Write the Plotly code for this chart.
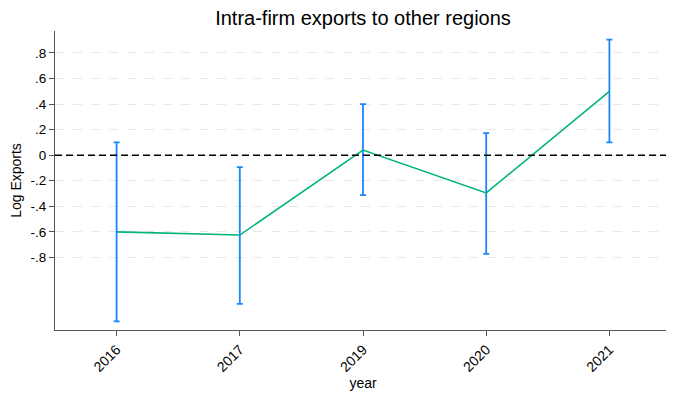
import plotly.graph_objects as go

years = ["2016", "2017", "2019", "2020", "2021"]
coef = [-0.60, -0.625, 0.04, -0.295, 0.50]
ci_upper = [0.10, -0.094, 0.40, 0.172, 0.905]
ci_lower = [-1.30, -1.163, -0.313, -0.772, 0.10]
ytick_vals = [0.8, 0.6, 0.4, 0.2, 0, -0.2, -0.4, -0.6, -0.8]
ytick_text = [".8", ".6", ".4", ".2", "0", "-.2", "-.4", "-.6", "-.8"]

err_plus = [u - c for u, c in zip(ci_upper, coef)]
err_minus = [c - l for c, l in zip(coef, ci_lower)]

font = "Liberation Sans, Arial, sans-serif"

fig = go.Figure()
# error bars (blue)
fig.add_trace(go.Scatter(
    x=years, y=coef, mode="markers",
    marker=dict(size=0.1, color="rgba(0,0,0,0)"),
    error_y=dict(type="data", symmetric=False, array=err_plus, arrayminus=err_minus,
                 color="#1a85ff", thickness=1.8, width=3),
    showlegend=False, hoverinfo="skip"))
# line (green)
fig.add_trace(go.Scatter(
    x=years, y=coef, mode="lines",
    line=dict(color="#00b37a", width=1.6),
    showlegend=False))

fig.add_shape(type="line", xref="paper", x0=0, x1=1, yref="y", y0=0, y1=0,
              line=dict(color="black", width=1.6, dash="7px,4px"), layer="above")

fig.update_layout(
    width=666, height=392,
    margin=dict(l=47, r=3, t=23, b=70, autoexpand=False),
    paper_bgcolor="white", plot_bgcolor="white",
    font=dict(family=font, size=13.5, color="black"),
    title=dict(text="Intra-firm exports to other regions", xref="paper", x=0.5, xanchor="center",
               y=0.9745, yanchor="middle", font=dict(size=20, family=font, color="black")),
)
fig.update_xaxes(
    type="category", categoryorder="array", categoryarray=years,
    range=[-0.5, 4.5],
    showline=True, linecolor="#555555", linewidth=1.2,
    ticks="outside", ticklen=5, tickcolor="#555555", tickwidth=1.2,
    tickangle=-45, tickfont=dict(size=14),
    showgrid=False, zeroline=False,
    title=dict(text="year", font=dict(size=14), standoff=4),
)
fig.update_yaxes(
    range=[-1.368, 0.972],
    tickvals=ytick_vals, ticktext=ytick_text,
    showline=True, linecolor="#555555", linewidth=1.2,
    ticks="outside", ticklen=5, tickcolor="#555555", tickwidth=1.2,
    tickfont=dict(size=13.5),
    showgrid=True, gridcolor="#e8e8e8", gridwidth=1, griddash="dash",
    zeroline=False,
    title=dict(text="Log Exports", font=dict(size=14), standoff=21),
)

fig.write_html("out.html")
